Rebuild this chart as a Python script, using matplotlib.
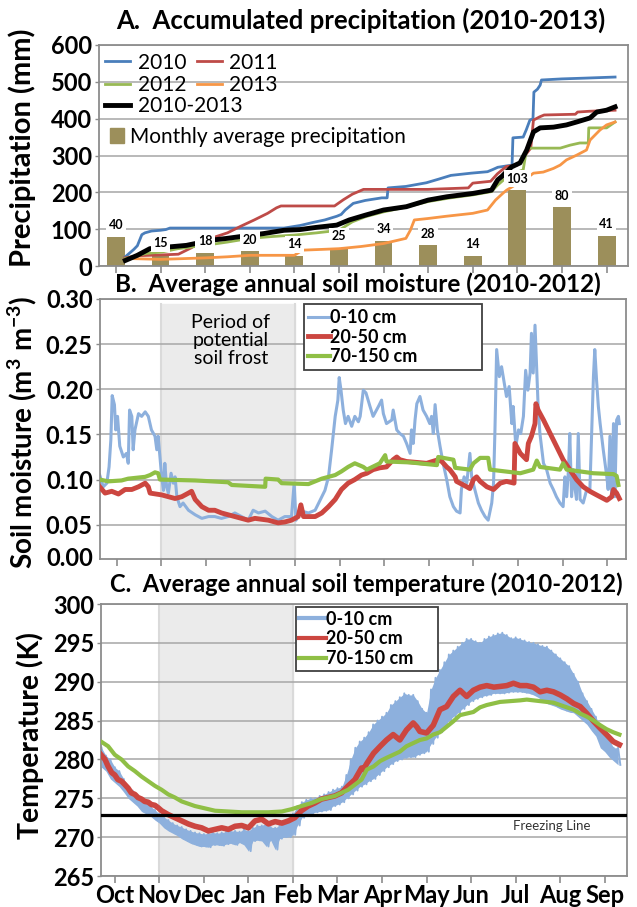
import numpy as np
import matplotlib
matplotlib.use("Agg")
import matplotlib.pyplot as plt
from matplotlib.patches import Patch
from matplotlib.lines import Line2D

plt.rcParams['font.family'] = ['Lato', 'DejaVu Sans']
plt.rcParams['mathtext.fontset'] = 'custom'
plt.rcParams['mathtext.rm'] = 'Lato'
plt.rcParams['mathtext.bf'] = 'Lato:bold'
plt.rcParams['mathtext.default'] = 'bf'

# x axis: month index, 0 = Oct tick ... 11 = Sep tick
months = ['Oct', 'Nov', 'Dec', 'Jan', 'Feb', 'Mar', 'Apr', 'May', 'Jun', 'Jul', 'Aug', 'Sep']

# ---------- A. accumulated precipitation (mm) ----------
monthly_avg = [40, 15, 18, 20, 14, 25, 34, 28, 14, 103, 80, 41]

p2010_x = [0.21, 0.40, 0.48, 0.58, 0.65, 0.80, 1.00, 1.12, 1.21, 3.77, 4.13, 4.41, 4.68, 4.95, 5.05,
           5.14, 5.32, 5.59, 5.96, 6.08, 6.10, 6.50, 6.96, 7.24, 7.51, 7.96, 8.33, 8.45, 8.56, 8.83,
           8.88, 8.90, 9.13, 9.20, 9.28, 9.35, 9.37, 9.45, 9.51, 9.54, 10.0, 10.5, 11.19]
p2010_y = [25, 45, 55, 85, 90, 95, 97, 99, 103, 103, 110, 118, 125, 135, 140,
           152, 170, 178, 185, 185, 212, 216, 226, 236, 246, 252, 256, 262, 268, 273,
           273, 348, 350, 370, 396, 400, 472, 480, 491, 505, 508, 510, 513]

p2011_x = [0.20, 0.50, 1.00, 1.40, 1.70, 1.90, 2.20, 2.50, 2.80, 3.10, 3.40, 3.60, 3.70, 4.90, 5.10,
           5.30, 5.55, 7.00, 7.90, 8.00, 8.40, 8.55, 8.75, 9.00, 9.15, 9.30, 9.36, 9.50, 9.60, 10.30,
           10.35, 10.60, 11.19]
p2011_y = [22, 28, 30, 32, 50, 70, 78, 90, 108, 125, 143, 158, 163, 163, 180,
           195, 208, 208, 212, 225, 230, 250, 270, 274, 297, 320, 396, 405, 410, 412,
           418, 420, 423]

p2012_x = [0.21, 0.67, 1.03, 1.39, 1.99, 2.50, 3.00, 3.50, 4.00, 4.50, 5.00, 5.30, 5.60, 6.00, 6.50,
           7.00, 7.50, 8.00, 8.42, 8.56, 8.78, 9.00, 9.13, 9.21, 9.96, 10.18, 10.40, 10.59, 10.60, 11.00,
           11.19]
p2012_y = [20, 34, 38, 47, 56, 65, 75, 80, 84, 90, 97, 120, 134, 147, 160,
           175, 185, 193, 202, 220, 243, 255, 261, 320, 320, 328, 334, 334, 375, 375,
           391]

p2013_x = [0.39, 1.00, 1.50, 2.00, 2.50, 3.00, 4.00, 4.18, 4.60, 5.00, 5.50, 6.00, 6.50, 6.60, 6.69,
           7.00, 7.40, 8.00, 8.33, 8.51, 8.68, 8.76, 9.25, 9.36, 9.58, 9.81, 9.96, 10.10, 10.33, 10.55,
           10.63, 10.85, 11.00, 11.19]
p2013_y = [20, 18, 20, 22, 25, 29, 29, 43, 45, 47, 53, 61, 75, 97, 125,
           129, 135, 143, 152, 179, 198, 206, 242, 252, 255, 265, 274, 288, 301, 315,
           342, 369, 383, 391]

pall_x = [0.21, 0.48, 0.76, 1.00, 1.21, 1.58, 1.94, 2.13, 2.49, 2.86, 3.31, 3.77, 4.13, 4.50, 4.95,
          5.23, 5.59, 6.00, 6.51, 7.00, 7.42, 8.00, 8.42, 8.56, 8.65, 8.75, 8.87, 9.06, 9.21, 9.36,
          9.51, 9.81, 10.10, 10.33, 10.63, 10.78, 11.00, 11.19]
pall_y = [15, 29, 47, 50, 52, 56, 65, 70, 75, 81, 88, 97, 99, 105, 111,
          125, 138, 152, 161, 179, 188, 197, 206, 234, 243, 255, 269, 280, 315, 364,
          375, 377, 383, 391, 402, 418, 423, 432]

# ---------- B. soil moisture (m3 m-3) ----------
sm0_x = [-0.38, -0.30, -0.22, -0.17, -0.13, -0.10, -0.05, -0.02, 0.02, 0.07, 0.15, 0.22, 0.26, 0.29, 0.34,
         0.37, 0.41, 0.49, 0.56, 0.64, 0.71, 0.78, 0.86, 0.90, 0.93, 0.97, 1.01, 1.05, 1.08, 1.12,
         1.16, 1.22, 1.27, 1.31, 1.35, 1.42, 1.49, 1.61, 1.76, 1.91, 2.06, 2.20, 2.35, 2.50, 2.65,
         2.80, 2.95, 3.06, 3.18, 3.33, 3.48, 3.62, 3.77, 3.92, 3.98, 4.02, 4.15, 4.30, 4.45, 4.60,
         4.67, 4.75, 4.82, 4.90, 4.96, 4.99, 5.03, 5.08, 5.13, 5.19, 5.27, 5.34, 5.42, 5.46, 5.53,
         5.59, 5.68, 5.75, 5.87, 5.94, 5.98, 6.05, 6.17, 6.20, 6.28, 6.35, 6.43, 6.50, 6.58, 6.61,
         6.65, 6.69, 6.73, 6.80, 6.87, 6.95, 7.02, 7.06, 7.10, 7.14, 7.19, 7.25, 7.32, 7.40, 7.47,
         7.55, 7.62, 7.70, 7.73, 7.79, 7.85, 7.92, 7.96, 8.03, 8.11, 8.18, 8.26, 8.33, 8.41, 8.45,
         8.48, 8.52, 8.58, 8.63, 8.68, 8.74, 8.80, 8.86, 8.89, 8.95, 9.01, 9.06, 9.12, 9.17, 9.22,
         9.27, 9.30, 9.34, 9.38, 9.42, 9.45, 9.49, 9.57, 9.64, 9.72, 9.79, 9.86, 9.94, 10.01, 10.05,
         10.09, 10.13, 10.16, 10.20, 10.24, 10.28, 10.31, 10.35, 10.39, 10.46, 10.54, 10.61, 10.65, 10.69, 10.72,
         10.76, 10.80, 10.84, 10.91, 10.99, 11.02, 11.06, 11.10, 11.14, 11.17, 11.21, 11.25, 11.27]
sm0_y = [0.105, 0.092, 0.096, 0.114, 0.144, 0.193, 0.183, 0.155, 0.170, 0.137, 0.125, 0.129, 0.118, 0.177, 0.170,
         0.133, 0.155, 0.173, 0.170, 0.175, 0.170, 0.155, 0.148, 0.133, 0.148, 0.125, 0.103, 0.088, 0.118, 0.092,
         0.085, 0.107, 0.096, 0.103, 0.081, 0.070, 0.074, 0.066, 0.061, 0.057, 0.059, 0.059, 0.057, 0.059, 0.063,
         0.059, 0.055, 0.066, 0.063, 0.065, 0.059, 0.055, 0.059, 0.059, 0.096, 0.055, 0.065, 0.063, 0.066, 0.081,
         0.088, 0.103, 0.133, 0.170, 0.188, 0.213, 0.199, 0.177, 0.162, 0.170, 0.159, 0.170, 0.164, 0.170, 0.199,
         0.196, 0.181, 0.170, 0.181, 0.188, 0.173, 0.162, 0.166, 0.177, 0.155, 0.151, 0.148, 0.140, 0.129, 0.155,
         0.140, 0.166, 0.184, 0.192, 0.177, 0.170, 0.162, 0.170, 0.151, 0.183, 0.155, 0.137, 0.118, 0.100, 0.081,
         0.070, 0.065, 0.063, 0.089, 0.103, 0.096, 0.129, 0.103, 0.089, 0.074, 0.066, 0.059, 0.055, 0.074, 0.096,
         0.151, 0.244, 0.214, 0.225, 0.210, 0.192, 0.203, 0.162, 0.181, 0.137, 0.155, 0.151, 0.170, 0.221, 0.199,
         0.218, 0.262, 0.218, 0.271, 0.221, 0.181, 0.151, 0.118, 0.111, 0.096, 0.089, 0.081, 0.074, 0.070, 0.103,
         0.081, 0.111, 0.151, 0.081, 0.111, 0.089, 0.078, 0.151, 0.078, 0.074, 0.089, 0.089, 0.151, 0.214, 0.244,
         0.210, 0.181, 0.162, 0.133, 0.103, 0.089, 0.148, 0.081, 0.162, 0.081, 0.166, 0.170, 0.162]

sm20_x = [-0.38, -0.26, -0.11, 0.04, 0.19, 0.34, 0.49, 0.64, 0.71, 0.75, 1.01, 1.16, 1.31, 1.46, 1.61,
          1.68, 1.76, 1.91, 2.06, 2.20, 2.35, 2.50, 2.65, 2.80, 2.95, 3.10, 3.25, 3.40, 3.62, 3.77,
          3.92, 4.07, 4.13, 4.19, 4.45, 4.60, 4.75, 4.90, 5.04, 5.19, 5.34, 5.49, 5.61, 5.75, 5.90,
          6.05, 6.20, 6.28, 6.35, 6.50, 6.95, 7.21, 7.29, 7.40, 7.47, 7.59, 7.62, 7.85, 7.92, 8.00,
          8.07, 8.15, 8.30, 8.45, 8.60, 8.74, 8.91, 8.93, 9.05, 9.19, 9.23, 9.30, 9.38, 9.40, 9.45,
          9.57, 9.72, 9.86, 10.01, 10.16, 10.31, 10.46, 10.61, 10.76, 10.99, 11.10, 11.14, 11.21, 11.27]
sm20_y = [0.092, 0.085, 0.087, 0.084, 0.089, 0.089, 0.092, 0.096, 0.092, 0.085, 0.083, 0.081, 0.079, 0.081, 0.085,
          0.087, 0.078, 0.070, 0.066, 0.066, 0.063, 0.061, 0.059, 0.057, 0.055, 0.057, 0.056, 0.055, 0.052, 0.053,
          0.055, 0.059, 0.072, 0.059, 0.059, 0.063, 0.070, 0.078, 0.089, 0.096, 0.100, 0.105, 0.107, 0.111, 0.113,
          0.114, 0.122, 0.125, 0.122, 0.120, 0.118, 0.122, 0.120, 0.114, 0.111, 0.103, 0.098, 0.092, 0.090, 0.100,
          0.103, 0.098, 0.092, 0.089, 0.096, 0.098, 0.096, 0.140, 0.129, 0.122, 0.140, 0.148, 0.162, 0.184, 0.177,
          0.166, 0.151, 0.137, 0.122, 0.111, 0.100, 0.092, 0.087, 0.083, 0.077, 0.081, 0.089, 0.085, 0.079]

sm70_x = [-0.38, -0.19, 0.11, 0.26, 0.64, 0.75, 0.86, 0.93, 0.97, 1.76, 2.13, 2.50, 2.58, 2.95, 3.33,
          3.34, 3.62, 3.70, 4.30, 4.45, 4.60, 4.75, 4.90, 5.04, 5.19, 5.34, 5.53, 5.61, 5.90, 6.02,
          6.05, 6.58, 7.18, 7.21, 7.55, 7.59, 7.92, 8.00, 8.15, 8.33, 8.37, 9.05, 9.34, 9.42, 9.49,
          9.94, 10.01, 10.09, 10.69, 11.14, 11.21, 11.25]
sm70_y = [0.100, 0.098, 0.099, 0.101, 0.103, 0.105, 0.108, 0.107, 0.100, 0.099, 0.098, 0.097, 0.094, 0.093, 0.092,
          0.101, 0.100, 0.096, 0.095, 0.098, 0.101, 0.103, 0.105, 0.109, 0.114, 0.118, 0.114, 0.111, 0.118, 0.127,
          0.120, 0.119, 0.116, 0.125, 0.122, 0.113, 0.111, 0.118, 0.124, 0.124, 0.111, 0.107, 0.111, 0.121, 0.114,
          0.111, 0.118, 0.111, 0.107, 0.106, 0.104, 0.094]

# ---------- C. soil temperature (K) ----------
freezing_k = 272.8

t70_x = [-0.31, -0.15, 0.00, 0.15, 0.30, 0.45, 0.60, 0.75, 0.90, 1.05, 1.20, 1.35, 1.50, 1.65, 1.80,
         1.95, 2.10, 2.25, 2.55, 2.85, 3.15, 3.45, 3.75, 3.97, 4.19, 4.42, 4.64, 4.94, 5.24, 5.54,
         5.66, 5.81, 5.96, 6.10, 6.25, 6.40, 6.55, 6.70, 6.85, 7.00, 7.15, 7.30, 7.45, 7.60, 7.75,
         7.90, 8.05, 8.20, 8.35, 8.65, 9.10, 9.25, 9.55, 9.85, 10.00, 10.15, 10.30, 10.45, 10.60, 10.75,
         10.90, 11.04, 11.19, 11.33]
t70_y = [282.3, 281.7, 280.6, 280.0, 279.1, 278.5, 277.8, 277.2, 276.6, 276.1, 275.5, 275.1, 274.6, 274.3, 274.0,
         273.8, 273.6, 273.4, 273.3, 273.2, 273.2, 273.2, 273.3, 273.6, 274.0, 274.4, 274.9, 275.3, 276.1, 277.4,
         278.7, 279.1, 279.8, 280.2, 280.6, 281.0, 281.7, 282.1, 282.5, 282.7, 283.2, 283.5, 284.2, 284.9, 285.7,
         285.9, 286.1, 286.7, 287.0, 287.4, 287.6, 287.7, 287.5, 287.3, 287.0, 286.7, 286.4, 285.9, 285.5, 285.0,
         284.4, 283.9, 283.5, 283.2]

t20_x = [-0.31, -0.22, -0.15, -0.07, 0.00, 0.07, 0.15, 0.22, 0.30, 0.37, 0.45, 0.52, 0.60, 0.67, 0.75,
         0.82, 0.90, 0.97, 1.05, 1.20, 1.35, 1.50, 1.65, 1.80, 1.95, 2.10, 2.25, 2.40, 2.55, 2.70,
         2.85, 3.00, 3.15, 3.30, 3.45, 3.60, 3.75, 3.90, 4.04, 4.19, 4.34, 4.49, 4.64, 4.79, 4.94,
         5.09, 5.24, 5.39, 5.54, 5.58, 5.66, 5.81, 5.96, 6.10, 6.25, 6.40, 6.55, 6.70, 6.78, 6.85,
         7.00, 7.15, 7.30, 7.45, 7.60, 7.75, 7.90, 8.05, 8.20, 8.35, 8.51, 8.66, 8.80, 8.95, 9.10,
         9.25, 9.40, 9.55, 9.70, 9.85, 10.00, 10.15, 10.30, 10.45, 10.60, 10.75, 10.90, 11.04, 11.19, 11.33]
t20_y = [280.6, 280.0, 279.1, 278.3, 278.0, 277.4, 277.2, 276.8, 276.3, 275.7, 275.5, 275.1, 274.9, 274.6, 274.5,
         274.2, 274.1, 273.8, 273.4, 272.9, 272.5, 272.1, 271.7, 271.4, 271.2, 270.8, 271.0, 271.2, 271.0, 271.4,
         271.5, 271.2, 272.1, 272.3, 271.7, 272.0, 271.8, 272.1, 272.5, 273.4, 274.0, 274.4, 274.9, 275.1, 275.3,
         275.7, 276.6, 277.4, 278.9, 278.7, 279.5, 280.8, 281.7, 282.5, 283.2, 282.5, 283.8, 284.7, 284.2, 283.6,
         283.4, 284.4, 286.4, 286.8, 288.1, 288.9, 288.1, 288.9, 289.3, 289.5, 289.3, 289.4, 289.5, 289.8, 289.5,
         289.5, 289.3, 288.7, 288.9, 288.7, 288.3, 287.8, 287.2, 286.8, 285.9, 284.9, 284.0, 283.2, 282.3, 281.9]

# 0-10 cm is very noisy: upper and lower swing read every 0.1 month from -0.3 to 11.3
t0_hi = [281.5, 280.5, 280.0,
         279.0, 278.5, 277.5, 276.5, 276.0, 275.5, 275.0, 274.5, 274.0, 273.5,
         273.0, 272.6, 272.2, 271.8, 271.5, 271.3, 271.0, 270.8, 270.6, 270.5,
         270.4, 270.5, 270.6, 270.5, 270.6, 270.7, 270.8, 270.8, 270.7, 271.0,
         270.8, 271.2, 271.5, 271.5, 271.8, 271.3, 271.2, 271.5, 271.8, 272.0,
         273.0, 274.0, 274.5, 274.8, 275.0, 275.0, 275.3, 275.5, 275.8, 276.1,
         276.3, 276.5, 278.0, 280.0, 281.5, 282.3, 282.8, 283.5, 284.5, 285.0,
         285.5, 286.0, 287.0, 287.5, 288.0, 288.5, 288.3, 288.3, 287.5, 286.5,
         286.0, 289.0, 290.5, 291.5, 292.5, 293.5, 294.0, 294.5, 295.0, 295.5,
         295.5, 295.2, 295.0, 295.5, 295.8, 296.0, 296.2, 296.3, 296.0, 295.6,
         295.7, 295.5, 295.3, 295.1, 295.0, 294.8, 294.6, 294.5, 294.0, 293.5,
         293.0, 292.5, 292.0, 291.0, 290.0, 288.5, 287.5, 286.5, 285.5, 284.0,
         283.2, 282.5, 281.5, 281.5]
t0_lo = [279.0, 278.5, 277.5,
         277.0, 276.5, 275.8, 275.0, 274.5, 274.0, 273.3, 273.0, 272.7, 272.2,
         271.8, 271.2, 270.8, 270.5, 270.2, 269.8, 269.5, 269.2, 269.0, 268.8,
         268.8, 268.7, 269.0, 269.0, 268.9, 269.1, 269.2, 269.0, 269.3, 269.0,
         268.2, 269.5, 269.6, 269.5, 268.8, 269.6, 268.4, 269.8, 270.0, 270.0,
         270.3, 271.5, 272.5, 272.8, 273.0, 273.2, 273.3, 273.4, 273.5, 274.0,
         274.2, 274.5, 275.0, 275.5, 276.0, 276.5, 276.8, 277.2, 277.5, 278.0,
         278.5, 279.0, 279.4, 279.8, 280.0, 280.2, 280.3, 280.3, 280.6, 280.8,
         281.0, 282.0, 282.8, 283.5, 284.2, 285.0, 285.5, 286.0, 286.5, 287.0,
         287.5, 287.8, 288.0, 288.2, 288.3, 288.5, 288.5, 288.5, 288.6, 288.7,
         288.7, 288.7, 288.6, 288.5, 288.3, 288.0, 287.6, 287.2, 287.0, 286.8,
         286.5, 286.3, 286.1, 286.0, 285.5, 285.0, 284.5, 283.7, 283.0, 281.5,
         281.0, 280.3, 279.8, 279.3]

# colours
c2010, c2011, c2012, c2013 = '#4a7ebb', '#be4b48', '#98b954', '#f79646'
bar_col = '#9c8f5b'
cb, cr, cg = '#8db0dd', '#cc4640', '#8fbf45'
frame_col = '#8c8c8c'
grid_col = '#a6a6a6'

fig = plt.figure(figsize=(6.37, 9.07), dpi=100)
W, H = 637.0, 907.0


def box(left, top, right, bottom):
    return [left / W, 1 - bottom / H, (right - left) / W, (bottom - top) / H]


def style(ax):
    for s in ax.spines.values():
        s.set_color(frame_col)
        s.set_linewidth(1.3)
    ax.tick_params(axis='x', direction='out', length=5, width=1.2, color=frame_col, labelbottom=False)
    ax.tick_params(axis='y', direction='out', length=3, width=1.0, color=frame_col, labelsize=17, pad=2)
    for lab in ax.get_yticklabels():
        lab.set_fontweight('bold')
    ax.set_xticks(range(12))


# ---------------- panel A ----------------
axA = fig.add_axes(box(99, 45, 628, 266))
axBar = axA.twinx()
axA.set_zorder(2)
axBar.set_zorder(1)
axA.patch.set_visible(False)
axBar.patch.set_visible(True)
axBar.patch.set_facecolor('white')

axBar.bar(range(12), monthly_avg, width=0.4, color=bar_col, zorder=2)
axBar.set_ylim(0, 300)
axBar.set_yticks(np.arange(0, 301, 50))
axBar.yaxis.grid(True, color=grid_col, lw=1.1)
axBar.set_axisbelow(True)
axBar.tick_params(axis='y', right=False, labelright=False)
for s in axBar.spines.values():
    s.set_visible(False)

axA.plot(p2010_x, p2010_y, color=c2010, lw=2)
axA.plot(p2011_x, p2011_y, color=c2011, lw=2)
axA.plot(p2012_x, p2012_y, color=c2012, lw=2)
axA.plot(p2013_x, p2013_y, color=c2013, lw=2)
axA.plot(pall_x, pall_y, color='black', lw=3.5)

for i, v in enumerate(monthly_avg):
    axA.annotate(str(v), xy=(i, v), xycoords=axBar.transData, xytext=(0, 4), textcoords='offset points',
                 ha='center', va='bottom', fontsize=9, fontweight='bold', zorder=5,
                 bbox=dict(boxstyle='square,pad=0.2', fc='white', ec='none'))

axA.set_xlim(-0.38, 11.48)
axA.set_ylim(0, 600)
axA.set_yticks(np.arange(0, 601, 100))
style(axA)

leg_kw = dict(frameon=False, fontsize=15, handlelength=1.2, handletextpad=0.35, borderpad=0,
              borderaxespad=0, labelspacing=0.1, loc='upper left')
h = [Line2D([], [], color=c, lw=2) for c in (c2010, c2012, c2011, c2013)]
leg1 = axA.legend(h, ['2010', '2012', '2011', '2013'], ncol=2, columnspacing=0.5,
                  bbox_to_anchor=(0.012, 0.965), **leg_kw)
axA.add_artist(leg1)
leg2 = axA.legend([Line2D([], [], color='black', lw=3.5)], ['2010-2013'],
                  bbox_to_anchor=(0.012, 0.77), **leg_kw)
axA.add_artist(leg2)
axA.legend([Patch(color=bar_col)], ['Monthly average precipitation'], handlelength=0.7, handleheight=0.7,
           bbox_to_anchor=(0.02, 0.63), frameon=False, fontsize=15, handletextpad=0.3, borderpad=0,
           borderaxespad=0, loc='upper left')

# ---------------- panel B ----------------
axB = fig.add_axes(box(99.7, 299, 626, 559))
axB.axvspan(1, 4, ymax=0.98, color='#ebebeb', zorder=0)
axB.axvline(1, ymax=0.98, color='#dadada', lw=1.5, zorder=0)
axB.axvline(4, ymax=0.98, color='#dadada', lw=1.5, zorder=0)
axB.yaxis.grid(True, color=grid_col, lw=1.1)
axB.set_axisbelow(True)
l0, = axB.plot(sm0_x, sm0_y, color=cb, lw=2.2, zorder=2)
l20, = axB.plot(sm20_x, sm20_y, color=cr, lw=3.5, zorder=3)
l70, = axB.plot(sm70_x, sm70_y, color=cg, lw=3, zorder=4)
axB.set_xlim(-0.38, 11.42)
axB.set_ylim(0.012, 0.30)
axB.set_yticks(np.arange(0.05, 0.301, 0.05))
axB.set_yticklabels([f'{v:.2f}' for v in np.arange(0.05, 0.301, 0.05)])
style(axB)
axB.text(-0.012, 0, '0.00', transform=axB.transAxes, ha='right', va='center', fontsize=17, fontweight='bold')
axB.text(2.56, 0.254, 'Period of\npotential\nsoil frost', ha='center', va='center', fontsize=14,
         linespacing=1.1, zorder=1)
legB = axB.legend([l0, l20, l70], ['0-10 cm', '20-50 cm', '70-150 cm'], loc='upper left',
                  bbox_to_anchor=(4.2, 0.224, 4.0, 0.07), bbox_transform=axB.transData, mode='expand',
                  prop=dict(weight='bold', size=13), handlelength=1.2, handletextpad=0.0,
                  labelspacing=0.15, borderpad=0.25, borderaxespad=0, fancybox=False, framealpha=1)
legB.get_frame().set_edgecolor('#404040')
legB.get_frame().set_linewidth(1.3)
legB.set_zorder(6)

# ---------------- panel C ----------------
axC = fig.add_axes(box(101, 604, 627, 876))
axC.axvspan(1, 4, color='#ebebeb', zorder=0)
axC.axvline(1, color='#dadada', lw=1.5, zorder=0)
axC.axvline(4, color='#dadada', lw=1.5, zorder=0)
axC.yaxis.grid(True, color=grid_col, lw=1.1)
axC.set_axisbelow(True)
t0_x = np.round(np.arange(-0.3, 11.35, 0.1), 2)[:len(t0_hi)]
axC.fill_between(t0_x, t0_lo, t0_hi, color=cb, lw=0, zorder=2)
zig_x = np.ravel(np.column_stack([t0_x, t0_x + 0.05]))
zig_y = np.ravel(np.column_stack([t0_hi, t0_lo]))
c0, = axC.plot(zig_x, zig_y, color=cb, lw=1.4, zorder=2)
c20, = axC.plot(t20_x, t20_y, color=cr, lw=4, zorder=3)
c70, = axC.plot(t70_x, t70_y, color=cg, lw=3, zorder=4)
axC.axhline(freezing_k, color='black', lw=2.3, zorder=5)
axC.text(9.82, 271.45, 'Freezing Line', ha='center', va='center', fontsize=9.5, color='#333333')
axC.set_xlim(-0.31, 11.5)
axC.set_ylim(265, 300)
axC.set_yticks(np.arange(265, 301, 5))
style(axC)
axC.tick_params(axis='x', labelbottom=True, labelsize=17, pad=1)
axC.set_xticklabels(months, fontweight='bold')
legC = axC.legend([c0, c20, c70], ['0-10 cm', '20-50 cm', '70-150 cm'], loc='upper left',
                  bbox_to_anchor=(4.06, 291.6, 3.19, 8.0), bbox_transform=axC.transData, mode='expand',
                  prop=dict(weight='bold', size=13), handlelength=1.5, handletextpad=0.0,
                  labelspacing=0.15, borderpad=0.2, borderaxespad=0, fancybox=False, framealpha=1)
legC.get_frame().set_edgecolor('#404040')
legC.get_frame().set_linewidth(1.3)
for ln in legC.get_lines():
    ln.set_linewidth(3)
legC.set_zorder(6)

# ---------------- titles and axis labels ----------------
fig.text(361 / W, 1 - 20 / H, 'A.  Accumulated precipitation (2010-2013)', ha='center', va='center',
         fontsize=18.5, fontweight='bold')
fig.text(358 / W, 1 - 284 / H, 'B.  Average annual soil moisture (2010-2012)', ha='center', va='center',
         fontsize=17.5, fontweight='bold')
fig.text(366 / W, 1 - 584 / H, 'C.  Average annual soil temperature (2010-2012)', ha='center', va='center',
         fontsize=17, fontweight='bold')
fig.text(22 / W, 1 - 148 / H, 'Precipitation (mm)', rotation=90, ha='center', va='center',
         fontsize=21, fontweight='bold')
fig.text(22 / W, 1 - 432 / H, r'Soil moisture (m$^{3}$ m$^{-3}$)', rotation=90, ha='center', va='center',
         fontsize=20, fontweight='bold')
fig.text(30 / W, 1 - 736 / H, 'Temperature (K)', rotation=90, ha='center', va='center',
         fontsize=20.5, fontweight='bold')

fig.savefig('out.png', dpi=100)
